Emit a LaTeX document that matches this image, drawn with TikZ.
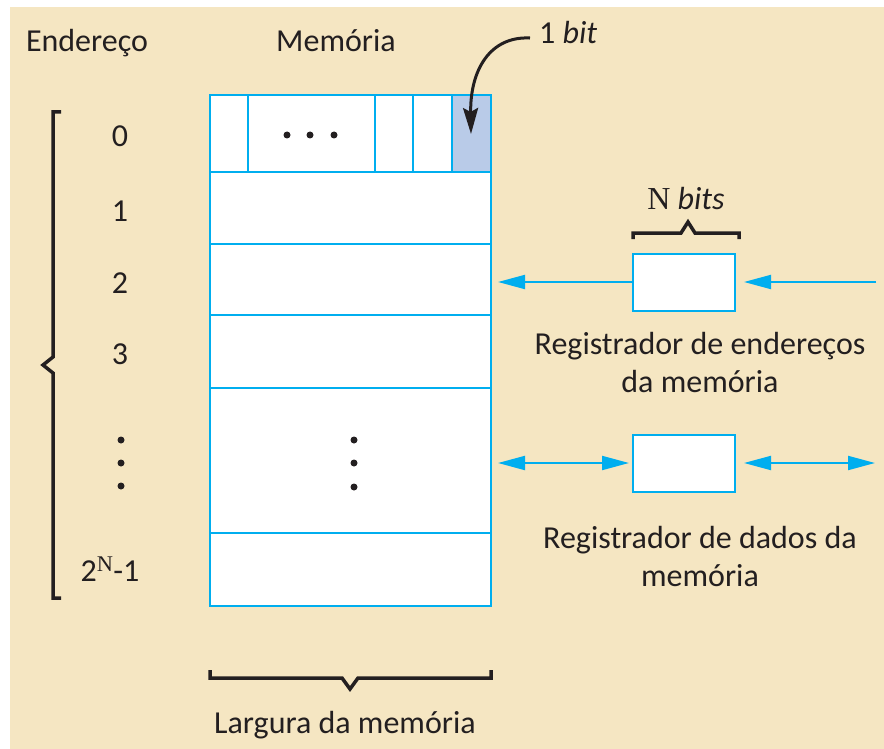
\documentclass[tikz,border=0pt]{standalone}
\usepackage{fontspec}
\setmainfont{Carlito}
\newfontfamily\serifN{Liberation Serif}
\usetikzlibrary{arrows.meta}
\definecolor{bg}{RGB}{245,230,194}
\definecolor{cyanline}{RGB}{0,174,239}
\definecolor{bitfill}{RGB}{185,203,232}
\definecolor{ink}{RGB}{35,31,32}
\begin{document}
\begin{tikzpicture}[x=1pt,y=-1pt, font=\fontsize{32}{38}\selectfont, text=ink,
 lbl/.style={inner sep=0pt, anchor=base},
 cell/.style={draw=cyanline, line width=2pt},
 brk/.style={draw=ink, line width=3.5pt, line join=miter},
 tipb/.tip={Triangle[length=27pt,width=14pt]},
 bluearrow/.style={draw=cyanline, line width=2pt, -tipb},
 bluedouble/.style={draw=cyanline, line width=2pt, tipb-tipb},
 dotmark/.style={circle, fill=ink, inner sep=0pt, minimum size=7pt},
 regbox/.style={cell, fill=white, minimum width=102pt, minimum height=57pt, inner sep=0pt},
]
\useasboundingbox (0,0) rectangle (884,749);
\fill[bg] (10,7) rectangle (884,749);

% memory block
\fill[white] (210,95) rectangle (491,606);
\fill[bitfill] (452,95) rectangle (491,172);
\foreach \yy in {172,244,315,388,533} \draw[cell] (210,\yy) -- (491,\yy);
\foreach \xx in {248,375,413,452} \draw[cell] (\xx,95) -- (\xx,172);
\node[cell, minimum width=281pt, minimum height=511pt, anchor=north west, inner sep=0pt, outer sep=0pt] (mem) at (210,95) {};

% dots in memory
\node[dotmark] (md1) at (287,135) {};
\node[dotmark] (md2) at (310,135) {};
\node[dotmark] (md3) at (334,135) {};
\node[dotmark] (mv1) at (354,440) {};
\node[dotmark] (mv2) at (354,463) {};
\node[dotmark] (mv3) at (354,487) {};

% headings
\node[lbl] (endlab) at (87,52) {Endereço};
\node[lbl] (memlab) at (336,52) {Memória};

% addresses
\node[lbl] (a0) at (120,147) {0};
\node[lbl] (a1) at (120,221) {1};
\node[lbl] (a2) at (120,293) {2};
\node[lbl] (a3) at (120,364) {3};
\node[dotmark] (ad1) at (121,440) {};
\node[dotmark] (ad2) at (121,463) {};
\node[dotmark] (ad3) at (121,486) {};
\node[lbl] (aN) at (110,581) {2\textsuperscript{\serifN N}-1};

% left bracket
\draw[brk] (61,112) -- (53,112) -- (53,357) -- (43,365) -- (53,373) -- (53,598) -- (61,598);

% bottom brace
\draw[brk] (210,670) -- (210,678) -- (342,678) -- (350,689) -- (358,678) -- (491,678) -- (491,670);
\node[lbl] (larg) at (345,733) {Largura da memória};

% 1 bit arrow
\node[lbl, anchor=base west] (onebit) at (539,44) {1 \textit{bit}};
\coordinate (bitcell) at (471,134);
\draw[ink, line width=3pt, -{Stealth[length=26pt,width=15pt,inset=4pt]}]
  ([xshift=-9pt,yshift=-5pt]onebit.west) .. controls (490,36) and (470,70) .. (bitcell);

% N bits brace
\draw[brk] (633,239) -- (633,233) -- (681,233) -- (688,222) -- (695,233) -- (739,233) -- (739,239);
\node[lbl] (nbits) at (686,209) {{\serifN N} \textit{bits}};

% address register
\node[regbox] (areg) at (684,282) {};
\coordinate (ain) at (876,282);
\draw[bluearrow, shorten >=7pt] (areg.west) -- (mem.east |- areg.west);
\draw[bluearrow, shorten >=8pt] (ain) -- (areg.east);
\node[lbl] (ar1) at (700,354) {Registrador de endereços};
\node[lbl] (ar2) at (700,392) {da memória};

% data register
\node[regbox] (dreg) at (684,463) {};
\coordinate (din) at (875,463);
\draw[bluedouble, shorten <=7pt, shorten >=3pt] (mem.east |- dreg.west) -- (dreg.west);
\draw[bluedouble, shorten <=8pt] (dreg.east) -- (din);
\node[lbl] (dr1) at (700,548) {Registrador de dados da};
\node[lbl] (dr2) at (700,586) {memória};
\end{tikzpicture}
\end{document}
